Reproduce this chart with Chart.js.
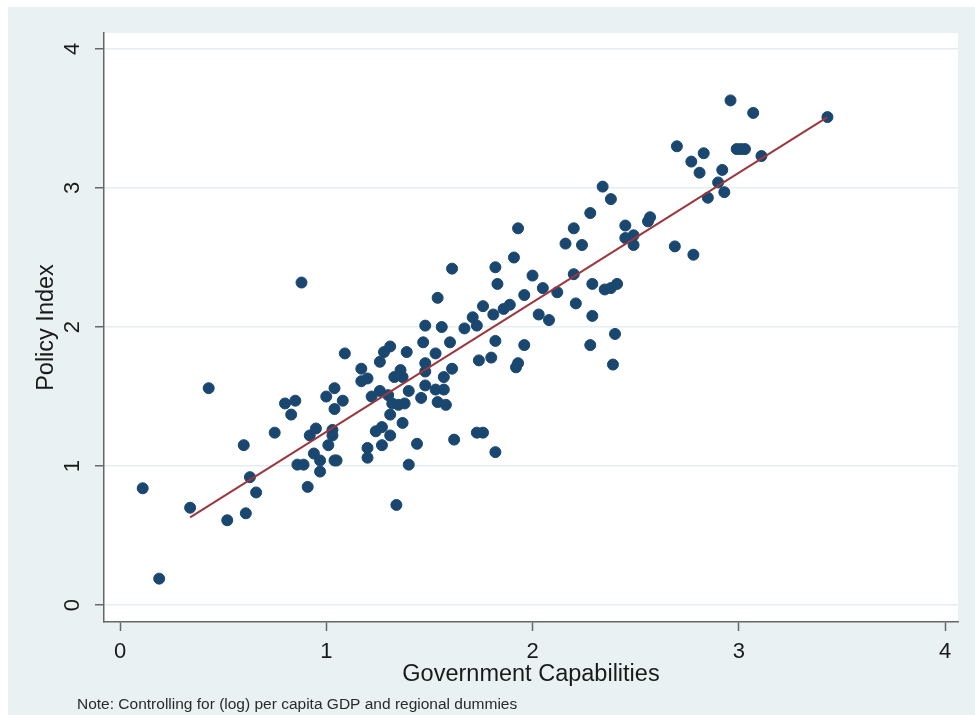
<!DOCTYPE html>
<html>
<head>
<meta charset="utf-8">
<script src="https://cdn.jsdelivr.net/npm/chart.js@4"></script>
<style>
  html, body { margin: 0; padding: 0; background: #fff; }
  canvas { display: block; }
</style>
</head>
<body>
<canvas id="myChart" width="975" height="715"></canvas>
<script>
    // values (Government Capabilities vs Policy Index)
    const capabilities = [
        0.11, 0.19, 0.34, 0.43, 0.52, 0.60, 0.61, 0.63, 0.66, 0.75,
        0.80, 0.85, 0.83, 0.88, 0.86, 0.89, 0.91, 0.92, 0.95, 0.94,
        0.97, 0.97, 1.00, 1.01, 1.03, 1.03, 1.04, 1.05, 1.04, 1.04,
        1.08, 1.09, 1.17, 1.17, 1.20, 1.20, 1.20, 1.22, 1.24, 1.26,
        1.26, 1.27, 1.27, 1.28, 1.30, 1.31, 1.31, 1.31, 1.32, 1.33,
        1.34, 1.35, 1.36, 1.37, 1.37, 1.38, 1.39, 1.40, 1.40, 1.44,
        1.46, 1.47, 1.48, 1.48, 1.48, 1.48, 1.53, 1.53, 1.54, 1.54,
        1.56, 1.57, 1.57, 1.58, 1.60, 1.61, 1.61, 1.62, 1.67, 1.71,
        1.73, 1.73, 1.74, 1.76, 1.76, 1.80, 1.81, 1.82, 1.82, 1.83,
        1.82, 1.86, 1.89, 1.91, 1.92, 1.93, 1.93, 1.96, 1.96, 2.00,
        2.03, 2.05, 2.08, 2.12, 2.16, 2.20, 2.20, 2.21, 2.24, 2.28,
        2.28, 2.29, 2.29, 2.34, 2.35, 2.38, 2.38, 2.39, 2.40, 2.41,
        2.45, 2.45, 2.49, 2.49, 2.56, 2.57, 2.69, 2.70, 2.78, 2.77,
        2.81, 2.83, 2.85, 2.90, 2.92, 2.93, 2.96, 2.99, 3.01, 3.03,
        3.07, 3.11, 3.43
    ];
    const policy = [
        0.84, 0.19, 0.70, 1.56, 0.61, 1.15, 0.66, 0.92, 0.81, 1.24,
        1.45, 1.47, 1.37, 2.32, 1.01, 1.01, 0.85, 1.22, 1.27, 1.09,
        1.04, 0.96, 1.50, 1.15, 1.26, 1.22, 1.04, 1.04, 1.56, 1.41,
        1.47, 1.81, 1.70, 1.61, 1.63, 1.13, 1.06, 1.50, 1.25, 1.54,
        1.75, 1.28, 1.15, 1.82, 1.51, 1.86, 1.22, 1.37, 1.45, 1.64,
        0.72, 1.44, 1.69, 1.64, 1.31, 1.45, 1.82, 1.54, 1.01, 1.16,
        1.49, 1.89, 2.01, 1.74, 1.68, 1.58, 1.55, 1.81, 2.21, 1.46,
        2.00, 1.64, 1.55, 1.44, 1.89, 1.70, 2.42, 1.19, 1.99, 2.07,
        2.01, 1.24, 1.76, 1.24, 2.15, 1.78, 2.09, 1.90, 2.43, 2.31,
        1.10, 2.13, 2.16, 2.50, 1.71, 1.74, 2.71, 1.87, 2.23, 2.37,
        2.09, 2.28, 2.05, 2.25, 2.60, 2.71, 2.38, 2.17, 2.59, 2.82,
        1.87, 2.31, 2.08, 3.01, 2.27, 2.28, 2.92, 1.73, 1.95, 2.31,
        2.73, 2.64, 2.66, 2.59, 2.76, 2.79, 2.58, 3.30, 2.52, 3.19,
        3.11, 3.25, 2.93, 3.04, 3.13, 2.97, 3.63, 3.28, 3.28, 3.28,
        3.54, 3.23, 3.51
    ];
    // fitted line end points
    const fitX = [0.34, 3.43];
    const fitY = [0.63, 3.51];
    const xTicks = [0, 1, 2, 3, 4];
    const yTicks = [0, 1, 2, 3, 4];

    const points = capabilities.map((v, i) => ({ x: v, y: policy[i] }));
    const fitLine = fitX.map((v, i) => ({ x: v, y: fitY[i] }));

    const bgPlugin = {
        id: 'bg',
        beforeDraw(chart) {
            const ctx = chart.ctx;
            const a = chart.chartArea;
            ctx.save();
            ctx.fillStyle = '#ffffff';
            ctx.fillRect(0, 0, chart.width, chart.height);
            ctx.fillStyle = '#eaf1f3';
            ctx.fillRect(8, 7, chart.width - 8, chart.height - 7);
            ctx.fillStyle = '#ffffff';
            ctx.fillRect(a.left, a.top, a.right - a.left, a.bottom - a.top);
            ctx.restore();
        },
        afterDraw(chart) {
            const ctx = chart.ctx;
            ctx.save();
            ctx.fillStyle = '#2a2a2a';
            ctx.font = '15.5px "Liberation Sans", Arial, sans-serif';
            ctx.textBaseline = 'alphabetic';
            ctx.fillText('Note: Controlling for (log) per capita GDP and regional dummies', 77, 709);
            ctx.restore();
        }
    };

    Chart.defaults.font.family = '"Liberation Sans", Arial, sans-serif';
    Chart.defaults.color = '#222';

    new Chart("myChart", {
        type: 'scatter',
        data: {
            datasets: [{
                label: 'Policy Index',
                data: points,
                backgroundColor: '#1a476f',
                borderColor: '#1a476f',
                pointRadius: 5.5,
                pointHoverRadius: 5.5,
                order: 2
            }, {
                type: 'line',
                label: 'Fitted values',
                data: fitLine,
                borderColor: '#9a383d',
                borderWidth: 2,
                pointRadius: 0,
                fill: false,
                order: 1
            }]
        },
        options: {
            responsive: false,
            animation: false,
            events: [],
            layout: { padding: { left: 8, top: 33, right: 17, bottom: 0 } },
            plugins: {
                legend: { display: false },
                tooltip: { enabled: false }
            },
            scales: {
                x: {
                    type: 'linear',
                    min: -0.0776,
                    max: 4.063,
                    afterFit(scale) { scale.height = 93; },
                    afterBuildTicks(scale) { scale.ticks = xTicks.map(v => ({ value: v })); },
                    border: { display: true, color: '#666', width: 1.5 },
                    grid: { drawOnChartArea: false, drawTicks: true, tickLength: 9, tickColor: '#666', tickWidth: 1.5 },
                    ticks: { font: { size: 22 }, color: '#1a1a1a', padding: 8, maxRotation: 0 },
                    title: { display: true, text: 'Government Capabilities', font: { size: 23.5 }, color: '#1a1a1a', padding: { top: 0, bottom: 26 } }
                },
                y: {
                    type: 'linear',
                    min: -0.122,
                    max: 4.115,
                    afterFit(scale) { scale.width = 96; },
                    afterBuildTicks(scale) { scale.ticks = yTicks.map(v => ({ value: v })); },
                    border: { display: true, color: '#666', width: 1.5 },
                    grid: { color: '#e4eef0', lineWidth: 1.5, drawTicks: true, tickLength: 9, tickColor: '#666', tickWidth: 1.5 },
                    ticks: { font: { size: 22 }, color: '#1a1a1a', padding: 16, minRotation: 90, maxRotation: 90, crossAlign: 'center' },
                    title: { display: true, text: 'Policy Index', font: { size: 23.5 }, color: '#1a1a1a', padding: { top: 24, bottom: 0 } }
                }
            }
        },
        plugins: [bgPlugin]
    });
</script>
</body>
</html>
